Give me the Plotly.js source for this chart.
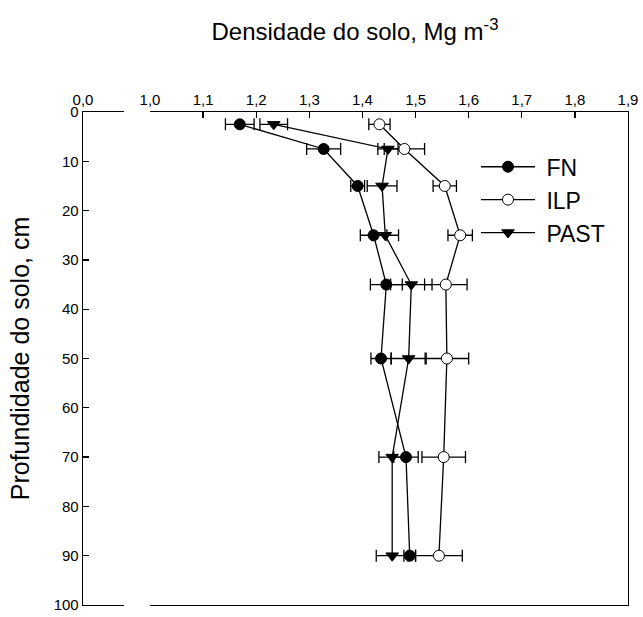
<!DOCTYPE html>
<html>
<head>
<meta charset="utf-8">
<script src="https://cdn.plot.ly/plotly-3.0.1.min.js"></script>
<style>html,body{margin:0;padding:0;background:#fff;}#chart{width:643px;height:617px;}</style>
</head>
<body>
<div id="chart"></div>
<script>
// Depth (cm)
const depth = [2.5, 7.5, 15, 25, 35, 50, 70, 90];
// Soil bulk density (Mg m-3) and standard errors
const fnVals   = [1.169, 1.327, 1.391, 1.421, 1.445, 1.435, 1.482, 1.489];
const fnErr    = [0.027, 0.032, 0.013, 0.025, 0.030, 0.019, 0.023, 0.011];
const ilpVals  = [1.432, 1.479, 1.555, 1.584, 1.557, 1.559, 1.553, 1.544];
const ilpErr   = [0.020, 0.038, 0.022, 0.023, 0.040, 0.041, 0.041, 0.044];
const pastVals = [1.233, 1.448, 1.437, 1.443, 1.492, 1.487, 1.456, 1.456];
const pastErr  = [0.026, 0.019, 0.028, 0.025, 0.039, 0.033, 0.025, 0.030];
const seriesNames = ['FN', 'ILP', 'PAST'];
const xTicksBreak = [0.0];
const xTicksMain = [1.0, 1.1, 1.2, 1.3, 1.4, 1.5, 1.6, 1.7, 1.8, 1.9];
const yTicks = [0, 10, 20, 30, 40, 50, 60, 70, 80, 90, 100];

const FONT = 'Liberation Sans, Arial, sans-serif';

function series(name, xs, errs, symbol, fill) {
  return {
    type: 'scatter', mode: 'lines+markers', name: ' ' + name,
    x: xs, y: depth, xaxis: 'x2', yaxis: 'y',
    line: {color: '#000', width: 1.3},
    marker: {symbol: symbol, size: 11, color: fill, line: {color: '#000', width: 1}},
    error_x: {type: 'data', array: errs, visible: true, color: '#000', thickness: 1.3, width: 6}
  };
}

const data = [
  // empty traces that only establish the broken left segment and the right frame line
  {type: 'scatter', mode: 'markers', x: [], y: [], xaxis: 'x', yaxis: 'y', showlegend: false, hoverinfo: 'skip'},
  {type: 'scatter', mode: 'markers', x: [], y: [], xaxis: 'x2', yaxis: 'y2', showlegend: false, hoverinfo: 'skip'},
  series(seriesNames[0], fnVals, fnErr, 'circle', '#000'),
  series(seriesNames[1], ilpVals, ilpErr, 'circle', '#fff'),
  series(seriesNames[2], pastVals, pastErr, 'triangle-down', '#000')
];

const axisCommon = {
  showline: true, linecolor: '#000', linewidth: 1.3,
  ticks: 'inside', ticklen: 6, tickwidth: 1.3, tickcolor: '#000',
  showgrid: false, zeroline: false,
  tickfont: {family: FONT, size: 15, color: '#000'}
};

const layout = {
  width: 643, height: 617,
  margin: {l: 83, r: 15, t: 112, b: 12},
  paper_bgcolor: '#fff', plot_bgcolor: '#fff',
  separators: ',.',
  showlegend: true,
  font: {family: FONT, color: '#000'},
  title: {
    text: 'Densidade do solo, Mg m<sup>-3</sup>',
    font: {family: FONT, size: 24, color: '#000'},
    x: 355 / 643, xanchor: 'center', xref: 'container',
    y: 1 - 32 / 617, yanchor: 'middle', yref: 'container'
  },
  xaxis: Object.assign({}, axisCommon, {
    domain: [0, (124 - 83) / 545], range: [0, 0.1], mirror: true,
    side: 'top', anchor: 'y', tickvals: xTicksBreak, tickformat: '.1f'
  }),
  xaxis2: Object.assign({}, axisCommon, {
    domain: [(150 - 83) / 545, 1], range: [1.0, 1.9], mirror: true,
    side: 'top', anchor: 'y', tickvals: xTicksMain, tickformat: '.1f'
  }),
  yaxis: Object.assign({}, axisCommon, {
    range: [100, 0], anchor: 'x', tickvals: yTicks, mirror: false,
    title: {text: 'Profundidade do solo, cm', font: {family: FONT, size: 25, color: '#000'}, standoff: 17}
  }),
  yaxis2: {
    range: [100, 0], overlaying: 'y', side: 'right', anchor: 'x2',
    showline: true, linecolor: '#000', linewidth: 1.3,
    ticks: '', showticklabels: false, showgrid: false, zeroline: false
  },
  legend: {
    x: (476 - 83) / 545, y: 1 - (145 - 111.7) / 493.3, xanchor: 'left', yanchor: 'top',
    font: {family: FONT, size: 23, color: '#000'},
    bgcolor: 'rgba(0,0,0,0)', borderwidth: 0,
    itemwidth: 54
  }
};

Plotly.newPlot('chart', data, layout, {displayModeBar: false, staticPlot: true});
</script>
</body>
</html>
